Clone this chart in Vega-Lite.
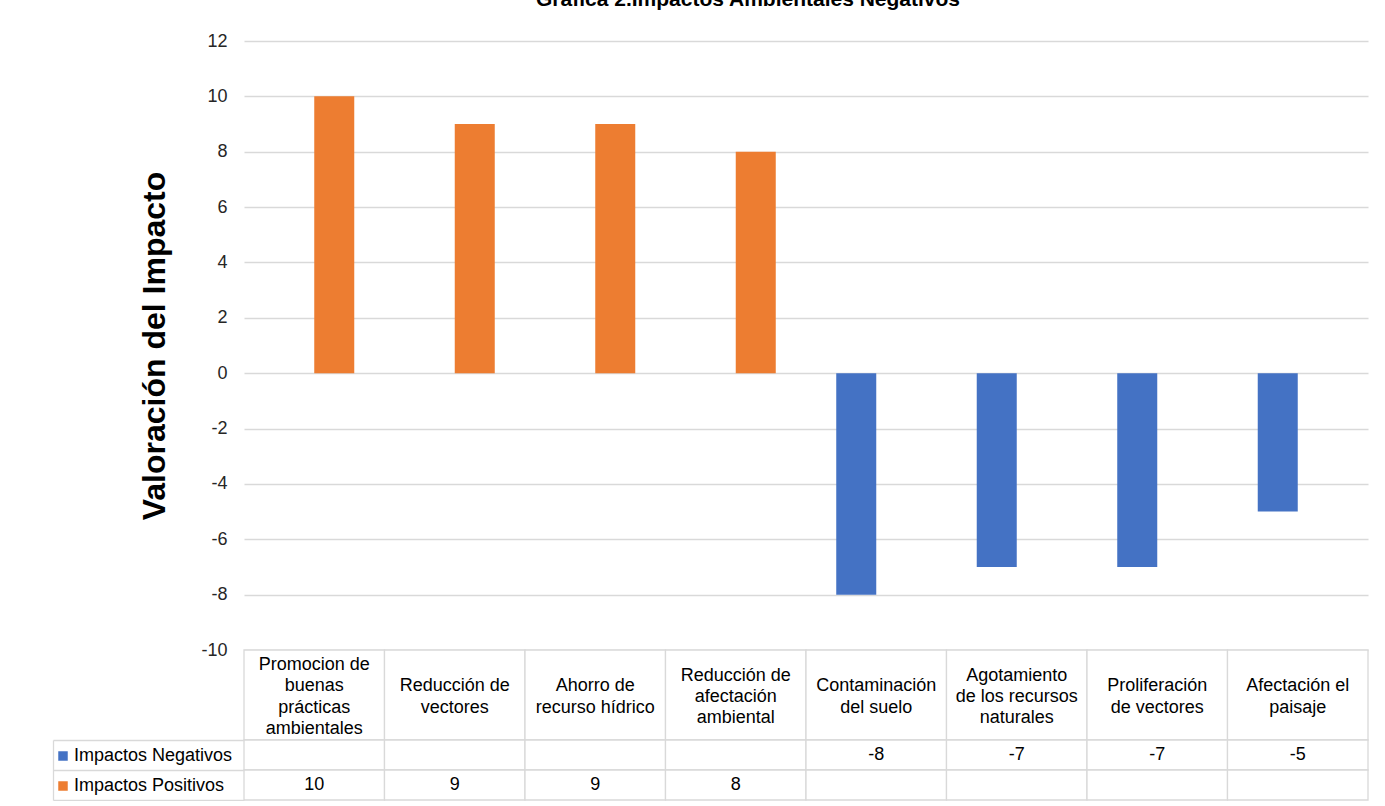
{
  "$schema": "https://vega.github.io/schema/vega-lite/v6.json",
  "background": "white",
  "padding": {"top": -11, "left": 52, "right": 0, "bottom": 0},
  "title": {
    "text": "Grafica 2.Impactos Ambientales Negativos",
    "fontSize": 21,
    "fontWeight": "bold",
    "color": "#000000",
    "baseline": "alphabetic",
    "frame": "group",
    "anchor": "start",
    "offset": 5,
    "dx": 292
  },
  "datasets": {
    "impactos": [
      {"categoria": "Promocion de buenas prácticas ambientales", "serie": "Impactos Negativos", "valor": null},
      {"categoria": "Promocion de buenas prácticas ambientales", "serie": "Impactos Positivos", "valor": 10},
      {"categoria": "Reducción de vectores", "serie": "Impactos Negativos", "valor": null},
      {"categoria": "Reducción de vectores", "serie": "Impactos Positivos", "valor": 9},
      {"categoria": "Ahorro de recurso hídrico", "serie": "Impactos Negativos", "valor": null},
      {"categoria": "Ahorro de recurso hídrico", "serie": "Impactos Positivos", "valor": 9},
      {"categoria": "Reducción de afectación ambiental", "serie": "Impactos Negativos", "valor": null},
      {"categoria": "Reducción de afectación ambiental", "serie": "Impactos Positivos", "valor": 8},
      {"categoria": "Contaminación del suelo", "serie": "Impactos Negativos", "valor": -8},
      {"categoria": "Contaminación del suelo", "serie": "Impactos Positivos", "valor": null},
      {"categoria": "Agotamiento de los recursos naturales", "serie": "Impactos Negativos", "valor": -7},
      {"categoria": "Agotamiento de los recursos naturales", "serie": "Impactos Positivos", "valor": null},
      {"categoria": "Proliferación de vectores", "serie": "Impactos Negativos", "valor": -7},
      {"categoria": "Proliferación de vectores", "serie": "Impactos Positivos", "valor": null},
      {"categoria": "Afectación el paisaje", "serie": "Impactos Negativos", "valor": -5},
      {"categoria": "Afectación el paisaje", "serie": "Impactos Positivos", "valor": null}
    ],
    "encabezado": [
      {"categoria": "Promocion de buenas prácticas ambientales", "lineas": ["Promocion de", "buenas", "prácticas", "ambientales"]},
      {"categoria": "Reducción de vectores", "lineas": ["Reducción de", "vectores"]},
      {"categoria": "Ahorro de recurso hídrico", "lineas": ["Ahorro de", "recurso hídrico"]},
      {"categoria": "Reducción de afectación ambiental", "lineas": ["Reducción de", "afectación", "ambiental"]},
      {"categoria": "Contaminación del suelo", "lineas": ["Contaminación", "del suelo"]},
      {"categoria": "Agotamiento de los recursos naturales", "lineas": ["Agotamiento", "de los recursos", "naturales"]},
      {"categoria": "Proliferación de vectores", "lineas": ["Proliferación", "de vectores"]},
      {"categoria": "Afectación el paisaje", "lineas": ["Afectación el", "paisaje"]}
    ]
  },
  "spacing": 0,
  "bounds": "flush",
  "vconcat": [
    {
      "width": 1124,
      "height": 609,
      "data": {"name": "impactos"},
      "mark": {"type": "bar"},
      "encoding": {
        "x": {
          "field": "categoria",
          "type": "nominal",
          "sort": null,
          "scale": {"paddingInner": 0, "paddingOuter": 0},
          "axis": null
        },
        "xOffset": {
          "field": "serie",
          "type": "nominal",
          "scale": {"paddingInner": 0, "paddingOuter": 0.756}
        },
        "y": {
          "field": "valor",
          "type": "quantitative",
          "scale": {"domain": [-10, 12], "nice": false},
          "axis": {
            "values": [-10, -8, -6, -4, -2, 0, 2, 4, 6, 8, 10, 12],
            "title": "Valoración del Impacto",
            "titleFontSize": 32,
            "titleFontWeight": "bold",
            "titleColor": "#000000",
            "titlePadding": 29,
            "grid": true,
            "gridColor": "#d9d9d9",
            "gridWidth": 1.3,
            "domain": false,
            "ticks": false,
            "labelPadding": 17,
            "labelFontSize": 18,
            "labelColor": "#262626"
          }
        },
        "color": {
          "field": "serie",
          "type": "nominal",
          "scale": {
            "domain": ["Impactos Negativos", "Impactos Positivos"],
            "range": ["#4472C4", "#ED7D31"]
          },
          "legend": {
            "orient": "none",
            "legendX": -190,
            "legendY": 706,
            "title": null,
            "padding": 0,
            "symbolType": "square",
            "symbolSize": 90,
            "symbolStrokeWidth": 0,
            "labelFontSize": 18,
            "labelColor": "#000000",
            "labelOffset": 2,
            "rowPadding": 12
          }
        }
      }
    },
    {
      "width": 1124,
      "height": 90,
      "data": {"name": "encabezado"},
      "encoding": {
        "x": {
          "field": "categoria",
          "type": "nominal",
          "sort": null,
          "scale": {"paddingInner": 0, "paddingOuter": 0},
          "axis": null
        }
      },
      "layer": [
        {"mark": {"type": "rect", "fill": "white", "stroke": "#d9d9d9", "strokeWidth": 1.3}},
        {
          "mark": {
            "type": "text",
            "fontSize": 18,
            "lineHeight": 21.4,
            "color": "#000000",
            "baseline": "middle",
            "dy": {"expr": "2 - (length(datum.lineas) - 1) * 10.7"}
          },
          "encoding": {"text": {"field": "lineas", "type": "nominal"}}
        }
      ]
    },
    {
      "width": 1124,
      "height": 60,
      "data": {"name": "impactos"},
      "encoding": {
        "x": {
          "field": "categoria",
          "type": "nominal",
          "sort": null,
          "scale": {"paddingInner": 0, "paddingOuter": 0},
          "axis": null
        },
        "y": {
          "field": "serie",
          "type": "nominal",
          "scale": {"domain": ["Impactos Negativos", "Impactos Positivos"], "paddingInner": 0, "paddingOuter": 0},
          "axis": {
            "title": null,
            "labels": false,
            "domain": true,
            "domainColor": "#d9d9d9",
            "domainWidth": 1.3,
            "offset": 191,
            "ticks": true,
            "tickSize": -191,
            "tickColor": "#d9d9d9",
            "tickWidth": 1.3,
            "bandPosition": 1,
            "tickExtra": true,
            "grid": false
          }
        }
      },
      "layer": [
        {"mark": {"type": "rect", "fill": "white", "stroke": "#d9d9d9", "strokeWidth": 1.3}},
        {
          "transform": [{"filter": "datum.valor != null"}],
          "mark": {"type": "text", "fontSize": 18, "color": "#000000", "baseline": "middle"},
          "encoding": {"text": {"field": "valor", "type": "quantitative"}}
        }
      ]
    }
  ],
  "config": {
    "font": "Liberation Sans",
    "view": {"stroke": null},
    "locale": {
      "number": {"decimal": ".", "thousands": ",", "grouping": [3], "currency": ["$", ""], "minus": "-"}
    }
  }
}
